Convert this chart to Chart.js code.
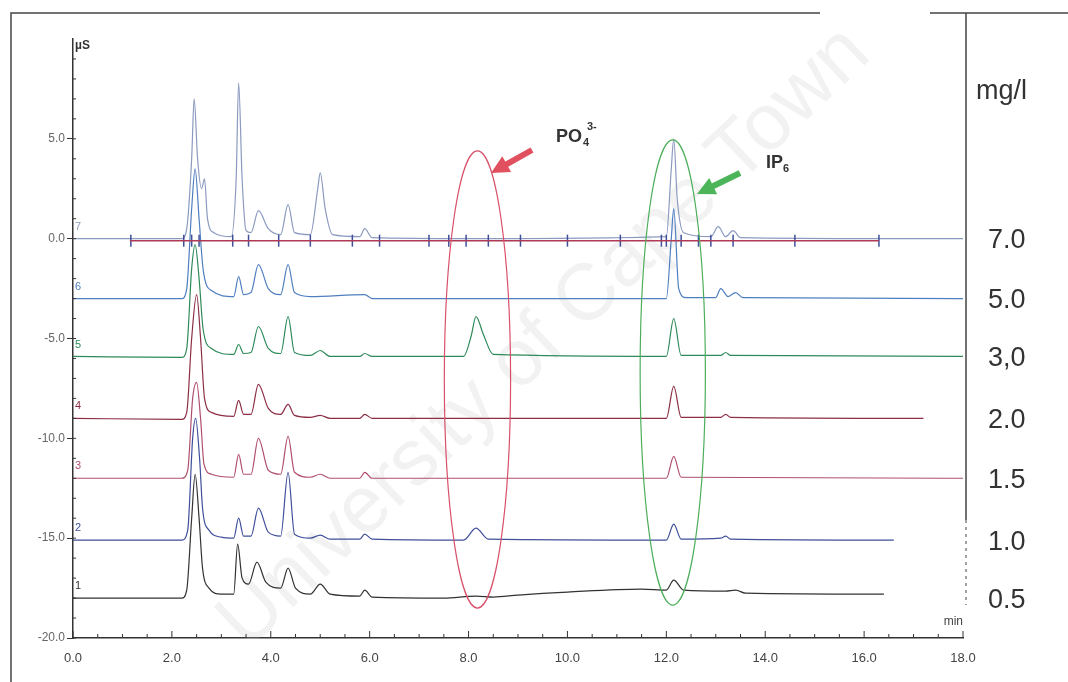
<!DOCTYPE html>
<html>
<head>
<meta charset="utf-8">
<script src="https://cdn.jsdelivr.net/npm/chart.js@4"></script>
<style>
  html, body { margin: 0; padding: 0; background: #fff; }
  #wrap { width: 1068px; height: 682px; position: relative; }
</style>
</head>
<body>
<div id="wrap"><canvas id="chrom"></canvas></div>
<script>
// [time (min), conductivity (µS)]
var trace1 = [[0,-18.0],[2.2,-18.0],[2.3,-17.6],[2.4,-14],[2.47,-11.8],[2.55,-14],[2.62,-16.5],[2.75,-17.5],[3.0,-17.8],[3.25,-17.8],[3.33,-15.3],[3.42,-17.0],[3.55,-17.3],[3.72,-16.2],[3.9,-17.2],[4.2,-17.5],[4.35,-16.5],[4.5,-17.5],[4.8,-17.8],[5.0,-17.3],[5.2,-17.8],[5.8,-17.9],[5.9,-17.6],[6.05,-17.95],[7.5,-18.0],[8.15,-17.9],[8.5,-17.95],[9.0,-17.85],[10.0,-17.7],[11.5,-17.55],[12.0,-17.6],[12.15,-17.1],[12.35,-17.6],[13.2,-17.65],[13.4,-17.6],[13.6,-17.75],[16.4,-17.8]];
var trace2 = [[0,-15.1],[2.2,-15.1],[2.32,-14.6],[2.42,-10],[2.48,-9.0],[2.56,-11],[2.62,-13.5],[2.75,-14.6],[3.0,-14.95],[3.25,-15.0],[3.35,-14.0],[3.45,-14.9],[3.6,-14.9],[3.75,-13.5],[3.95,-14.7],[4.2,-14.9],[4.35,-11.7],[4.48,-14.8],[4.8,-15.0],[5.0,-14.85],[5.2,-15.05],[5.8,-15.05],[5.9,-14.8],[6.05,-15.05],[7.9,-15.1],[8.15,-14.5],[8.4,-15.05],[12.0,-15.1],[12.15,-14.3],[12.3,-15.05],[13.1,-15.0],[13.2,-14.9],[13.3,-15.05],[16.6,-15.1]];
var trace3 = [[0,-12.0],[2.2,-12.0],[2.32,-11.6],[2.42,-8],[2.5,-7.2],[2.58,-9],[2.65,-11.3],[2.8,-11.8],[3.25,-11.95],[3.35,-10.8],[3.45,-11.8],[3.6,-11.8],[3.75,-10.0],[3.95,-11.6],[4.2,-11.8],[4.35,-9.9],[4.48,-11.7],[4.8,-11.95],[5.0,-11.8],[5.2,-12.0],[5.8,-12.0],[5.9,-11.7],[6.05,-12.0],[12.0,-12.0],[12.15,-10.9],[12.3,-11.95],[18,-12.0]];
var trace4 = [[0,-9.0],[2.2,-9.05],[2.3,-8.7],[2.4,-5],[2.5,-2.8],[2.58,-5],[2.66,-8],[2.8,-8.7],[3.25,-8.9],[3.35,-8.1],[3.45,-8.8],[3.6,-8.8],[3.75,-7.3],[3.95,-8.5],[4.2,-8.8],[4.35,-8.3],[4.48,-8.85],[4.8,-8.95],[5.0,-8.85],[5.2,-9.0],[5.8,-9.0],[5.9,-8.8],[6.05,-9.0],[12.0,-9.0],[12.15,-7.4],[12.3,-8.95],[13.1,-8.95],[13.2,-8.8],[13.3,-8.95],[17.2,-9.0]];
var trace5 = [[0,-5.9],[2.2,-5.95],[2.3,-5.5],[2.4,-1.5],[2.47,-0.3],[2.55,-2],[2.63,-4.5],[2.8,-5.5],[3.25,-5.8],[3.35,-5.3],[3.45,-5.75],[3.6,-5.7],[3.75,-4.4],[3.95,-5.5],[4.2,-5.75],[4.35,-3.9],[4.48,-5.7],[4.8,-5.85],[5.0,-5.6],[5.2,-5.9],[5.8,-5.9],[5.9,-5.75],[6.05,-5.9],[7.9,-5.9],[8.05,-4.9],[8.15,-3.9],[8.3,-4.8],[8.5,-5.8],[12.0,-5.9],[12.15,-4.0],[12.3,-5.85],[13.1,-5.85],[13.2,-5.7],[13.3,-5.85],[18,-5.9]];
var trace6 = [[0,-3.0],[2.2,-3.0],[2.3,-2.5],[2.4,1.5],[2.47,3.5],[2.55,1],[2.63,-1.5],[2.8,-2.6],[3.25,-2.9],[3.35,-1.9],[3.45,-2.8],[3.6,-2.7],[3.75,-1.3],[3.95,-2.5],[4.2,-2.8],[4.35,-1.3],[4.48,-2.7],[4.8,-2.9],[5.9,-2.8],[6.05,-3.0],[12.0,-3.0],[12.1,0],[12.15,1.5],[12.25,-2.5],[12.4,-2.95],[13.0,-2.95],[13.1,-2.5],[13.25,-2.9],[13.4,-2.7],[13.55,-2.95],[18,-3.0]];
var trace7 = [[0,0],[2.2,0],[2.3,0.5],[2.4,4],[2.45,7.0],[2.52,4],[2.6,2.5],[2.66,3.0],[2.72,1],[2.85,0.3],[3.2,0.1],[3.3,3],[3.35,7.8],[3.42,3],[3.5,0.4],[3.6,0.3],[3.75,1.4],[3.95,0.5],[4.2,0.2],[4.35,1.7],[4.48,0.3],[4.8,0.2],[4.95,2.5],[5.0,3.3],[5.1,1.5],[5.25,0.2],[5.8,0.1],[5.9,0.5],[6.05,0.05],[8.0,0],[12.0,0.1],[12.1,3.5],[12.15,5.0],[12.22,2.0],[12.35,0.3],[12.9,0.1],[13.05,0.6],[13.2,0.1],[13.35,0.4],[13.5,0.05],[16.4,0],[18,0]];
// integration baseline and peak markers on run 7
var integBase = [[1.15,-0.1],[16.3,-0.1]];
var integMarks = [1.17, 2.24, 2.4, 2.55, 3.23, 3.55, 4.16, 4.8, 5.65, 6.2, 7.2, 7.6, 7.95, 8.4, 9.05, 10.0, 11.07, 11.9, 12.0, 12.3, 12.65, 12.9, 13.35, 14.6, 16.3];

var runNames = ['1', '2', '3', '4', '5', '6', '7'];
var concLabels = ['0.5', '1.0', '1.5', '2.0', '3,0', '5.0', '7.0'];
var baselines = [-18.0, -15.1, -12.0, -9.0, -5.9, -3.0, 0.0];
var runColors = ['#333333', '#3f4f9a', '#b0506e', '#8c2f45', '#2f8a5a', '#4f7fc0', '#8c9ac0'];

var xTicks = [0, 2, 4, 6, 8, 10, 12, 14, 16, 18];
var yTicks = [-20, -15, -10, -5, 0, 5];

function pts(arr) {
    return arr.map(function (p) { return { x: p[0], y: p[1] }; });
}

var traces = [trace1, trace2, trace3, trace4, trace5, trace6, trace7];
var datasets = traces.map(function (t, i) {
    return {
        label: 'run ' + runNames[i],
        data: pts(t),
        showLine: true,
        borderColor: runColors[i],
        borderWidth: 1.2,
        pointRadius: 0,
        cubicInterpolationMode: 'monotone',
        order: 7 - i
    };
});
datasets.push({
    label: 'baseline',
    data: pts(integBase),
    showLine: true,
    borderColor: '#b03a55',
    borderWidth: 1.5,
    pointRadius: 0
});
datasets.push({
    label: 'marks',
    data: integMarks.map(function (t) { return { x: t, y: -0.1 }; }),
    showLine: false,
    pointStyle: 'line',
    rotation: 90,
    pointRadius: 6,
    borderColor: '#3f4f9a',
    borderWidth: 1.5
});

var extras = {
    id: 'extras',
    beforeDatasetsDraw: function (chart) {
        var c = chart.ctx;
        c.save();
        // scan watermark
        c.translate(545, 338);
        c.rotate(-43.5 * Math.PI / 180);
        c.font = '80px "Liberation Sans", Arial, sans-serif';
        c.fillStyle = 'rgba(190,190,190,0.2)';
        c.textAlign = 'center';
        c.textBaseline = 'middle';
        c.fillText('University of Cape Town', 0, 0);
        c.restore();
    },
    afterDraw: function (chart) {
        var c = chart.ctx, xs = chart.scales.x, ys = chart.scales.y;
        var a = chart.chartArea;
        c.save();
        // frame of the scanned figure
        c.strokeStyle = '#444';
        c.lineWidth = 1.5;
        c.beginPath();
        c.moveTo(11, 682); c.lineTo(11, 13); c.lineTo(820, 13);
        c.moveTo(930, 13); c.lineTo(1068, 13);
        c.moveTo(966, 13); c.lineTo(966, 520);
        c.stroke();
        c.setLineDash([3, 4]);
        c.lineWidth = 1;
        c.beginPath();
        c.moveTo(966, 520); c.lineTo(966, 605);
        c.stroke();
        c.setLineDash([]);

        // minor ticks on x axis (inside)
        c.strokeStyle = '#333';
        c.lineWidth = 1;
        c.beginPath();
        for (var t = 0; t <= 18; t += 0.5) {
            var px = xs.getPixelForValue(t);
            var len = (t % 2 === 0) ? 7 : 4;
            c.moveTo(px, a.bottom); c.lineTo(px, a.bottom - len);
        }
        // minor ticks on y axis
        for (var v = -20; v <= 9; v += 1) {
            var py = ys.getPixelForValue(v);
            c.moveTo(a.left, py); c.lineTo(a.left + 3, py);
        }
        c.stroke();

        // axis unit labels
        c.fillStyle = '#333';
        c.font = 'bold 12px "Liberation Sans", Arial, sans-serif';
        c.textAlign = 'left';
        c.textBaseline = 'middle';
        c.fillText('µS', a.left + 2, 46);
        c.font = '12px "Liberation Sans", Arial, sans-serif';
        c.fillStyle = '#444';
        c.textAlign = 'right';
        c.fillText('min', 963, 622);

        // run numbers and concentrations
        for (var i = 0; i < runNames.length; i++) {
            var by = ys.getPixelForValue(baselines[i]);
            c.fillStyle = runColors[i];
            c.font = '11px "Liberation Sans", Arial, sans-serif';
            c.textAlign = 'left';
            c.fillText(runNames[i], a.left + 2, by - 12);
            c.fillStyle = '#333';
            c.font = '27px "Liberation Sans", Arial, sans-serif';
            c.fillText(concLabels[i], 988, by + 2);
        }
        c.font = '27px "Liberation Sans", Arial, sans-serif';
        c.fillText('mg/l', 976, 92);

        // circled peaks
        c.lineWidth = 1.2;
        c.strokeStyle = '#d8506a';
        c.beginPath();
        var rx = xs.getPixelForValue(8.18), ry = ys.getPixelForValue(-7.05);
        c.ellipse(rx, ry, Math.abs(xs.getPixelForValue(8.85) - rx), Math.abs(ys.getPixelForValue(4.4) - ry), 0, 0, Math.PI * 2);
        c.stroke();
        c.strokeStyle = '#4cae5a';
        c.beginPath();
        var gx = xs.getPixelForValue(12.13), gy = ys.getPixelForValue(-6.7);
        c.ellipse(gx, gy, Math.abs(xs.getPixelForValue(12.79) - gx), Math.abs(ys.getPixelForValue(4.95) - gy), 0, 0, Math.PI * 2);
        c.stroke();

        // arrows
        function arrow(x1, y1, x2, y2, col) {
            var ang = Math.atan2(y2 - y1, x2 - x1);
            c.strokeStyle = col; c.fillStyle = col;
            c.lineWidth = 6;
            c.beginPath();
            c.moveTo(x1, y1);
            c.lineTo(x2 - 12 * Math.cos(ang), y2 - 12 * Math.sin(ang));
            c.stroke();
            c.beginPath();
            c.moveTo(x2, y2);
            c.lineTo(x2 - 18 * Math.cos(ang) + 9 * Math.sin(ang), y2 - 18 * Math.sin(ang) - 9 * Math.cos(ang));
            c.lineTo(x2 - 18 * Math.cos(ang) - 9 * Math.sin(ang), y2 - 18 * Math.sin(ang) + 9 * Math.cos(ang));
            c.closePath();
            c.fill();
        }
        arrow(532, 150, 491, 173, '#e0505e');
        arrow(740, 173, 697, 194, '#4cb55a');

        // peak names
        c.fillStyle = '#333';
        c.textAlign = 'left';
        c.textBaseline = 'alphabetic';
        c.font = 'bold 18px "Liberation Sans", Arial, sans-serif';
        c.fillText('PO', 556, 142);
        c.font = 'bold 11px "Liberation Sans", Arial, sans-serif';
        c.fillText('4', 583, 146);
        c.fillText('3-', 587, 130);
        c.font = 'bold 18px "Liberation Sans", Arial, sans-serif';
        c.fillText('IP', 766, 168);
        c.font = 'bold 11px "Liberation Sans", Arial, sans-serif';
        c.fillText('6', 783, 172);
        c.restore();
    }
};

new Chart(document.getElementById('chrom'), {
    type: 'scatter',
    data: { datasets: datasets },
    options: {
        responsive: true,
        maintainAspectRatio: false,
        animation: false,
        layout: { padding: { left: 10, top: 39, right: 105, bottom: 0 } },
        plugins: {
            legend: { display: false },
            tooltip: { enabled: false }
        },
        scales: {
            x: {
                type: 'linear',
                min: 0,
                max: 18,
                afterBuildTicks: function (s) { s.ticks = xTicks.map(function (v) { return { value: v }; }); },
                afterFit: function (s) { s.height = 44; },
                grid: { display: false, drawTicks: false },
                border: { display: true, color: '#333', width: 1.5 },
                ticks: {
                    padding: 13,
                    color: '#444',
                    font: { size: 13, family: '"Liberation Sans", Arial, sans-serif' },
                    callback: function (v) { return v.toFixed(1); }
                }
            },
            y: {
                type: 'linear',
                min: -20,
                max: 10,
                afterBuildTicks: function (s) { s.ticks = yTicks.map(function (v) { return { value: v }; }); },
                afterFit: function (s) { s.width = 63; },
                grid: { drawOnChartArea: false, drawTicks: true, tickLength: 6, tickColor: '#333' },
                border: { display: true, color: '#333', width: 1.5 },
                ticks: {
                    padding: 2,
                    color: '#666',
                    font: { size: 12, family: '"Liberation Sans", Arial, sans-serif' },
                    callback: function (v) { return v.toFixed(1); }
                }
            }
        }
    },
    plugins: [extras]
});
</script>
</body>
</html>
